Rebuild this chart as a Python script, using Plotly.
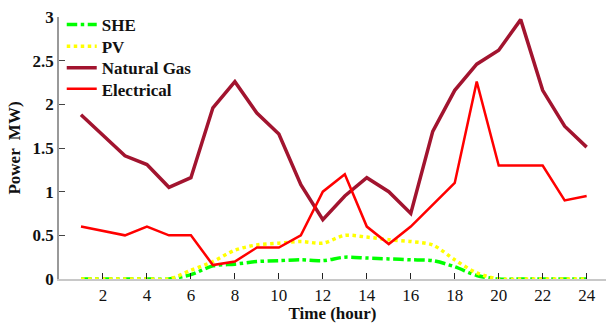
import plotly.graph_objects as go

hours = list(range(1, 25))
she = [0, 0, 0, 0, 0, 0.05, 0.15, 0.17, 0.20, 0.21, 0.22, 0.21, 0.25, 0.24, 0.23, 0.22, 0.21, 0.14, 0.04, 0, 0, 0, 0, 0]
pv = [0, 0, 0, 0, 0, 0.10, 0.20, 0.33, 0.39, 0.41, 0.43, 0.41, 0.50, 0.48, 0.45, 0.43, 0.39, 0.22, 0.07, 0, 0, 0, 0, 0]
natural_gas = [1.88, 1.65, 1.41, 1.31, 1.05, 1.16, 1.96, 2.26, 1.90, 1.66, 1.08, 0.68, 0.95, 1.16, 1.00, 0.75, 1.69, 2.16, 2.46, 2.62, 2.97, 2.16, 1.75, 1.51]
electrical = [0.60, 0.55, 0.50, 0.60, 0.50, 0.50, 0.16, 0.20, 0.36, 0.36, 0.50, 1.00, 1.20, 0.60, 0.40, 0.60, 0.85, 1.10, 2.26, 1.30, 1.30, 1.30, 0.90, 0.95]
x_ticks = list(range(2, 25, 2))

FAM = "Liberation Serif"
font = dict(family=FAM, size=17, color="#111111")

fig = go.Figure()
fig.add_trace(go.Scatter(x=hours, y=she, name="<b>SHE</b>", mode="lines", legend="legend",
                         line=dict(color="#00ff00", width=3.5, dash="dashdot", shape="spline", smoothing=0.8)))
fig.add_trace(go.Scatter(x=hours, y=pv, name="<b>PV</b>", mode="lines", legend="legend2",
                         line=dict(color="#ffff00", width=3.5, dash="dot", shape="spline", smoothing=0.8)))
fig.add_trace(go.Scatter(x=hours, y=natural_gas, name="<b>Natural Gas</b>", mode="lines", legend="legend3",
                         line=dict(color="#a2142f", width=3.5)))
fig.add_trace(go.Scatter(x=hours, y=electrical, name="<b>Electrical</b>", mode="lines", legend="legend4",
                         line=dict(color="#ff0000", width=2.5)))

def leg(yc):
    return dict(x=0.005, y=yc, xanchor="left", yanchor="middle", bgcolor="rgba(0,0,0,0)",
                font=font, itemwidth=30, borderwidth=0)

fig.update_layout(
    width=606, height=323,
    margin=dict(l=59, r=0, t=17, b=44),
    paper_bgcolor="white", plot_bgcolor="white",
    font=font,
    showlegend=True,
    legend=leg(0.9695),
    legend2=leg(0.8866),
    legend3=leg(0.8042),
    legend4=leg(0.7240),
)
fig.update_xaxes(range=[0, 24.88], tickmode="array", tickvals=x_ticks,
                 showgrid=False, zeroline=False, showline=True, linecolor="#c8c8c8", linewidth=1.5,
                 ticks="inside", ticklen=6, tickcolor="#222222", tickwidth=1,
                 tickfont=dict(family=FAM, size=17, color="#111111"),
                 tickprefix="<b>", ticksuffix="</b>",
                 title=dict(text="<b>Time (hour)</b>", standoff=6, font=font))
fig.update_yaxes(range=[0, 3], tickmode="linear", tick0=0, dtick=0.5,
                 showgrid=False, zeroline=False, showline=True, linecolor="#999999", linewidth=1.5,
                 ticks="inside", ticklen=6, tickcolor="#444444", tickwidth=1,
                 tickfont=dict(family=FAM, size=17, color="#111111"),
                 tickprefix="<b>", ticksuffix="</b>",
                 title=dict(text="<b>Power  MW)</b>", standoff=8, font=font))

fig.write_html("out.html")
